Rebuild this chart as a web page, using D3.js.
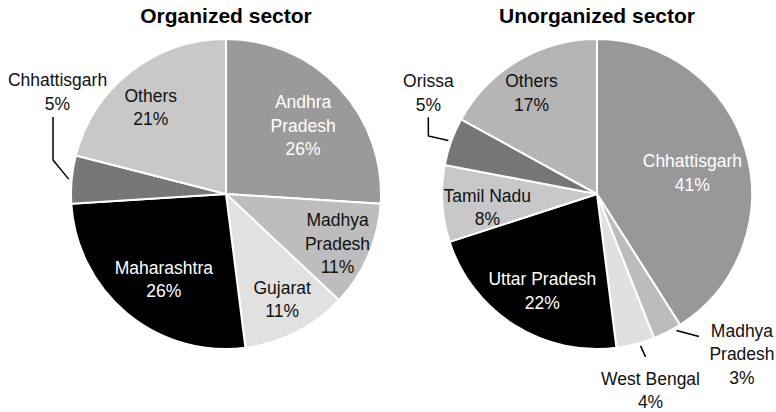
<!DOCTYPE html>
<html>
<head>
<meta charset="utf-8">
<script src="https://cdn.jsdelivr.net/npm/d3@7"></script>
<style>
  body { margin: 0; background: #fff; }
  text { font-family: "Liberation Sans", Arial, sans-serif; }
</style>
</head>
<body>
<svg width="776" height="412"></svg>
<script>
// organized sector, clockwise from 12 o'clock
const orgStates = ['Andhra Pradesh', 'Madhya Pradesh', 'Gujarat', 'Maharashtra', 'Chhattisgarh', 'Others']
const orgShares = [26, 11, 11, 26, 5, 21]
const orgColors = ['#9a9a9b', '#bdbdbd', '#e1e1e2', '#000000', '#77777a', '#c8c8c9']

// unorganized sector
const unorgStates = ['Chhattisgarh', 'Madhya Pradesh', 'West Bengal', 'Uttar Pradesh', 'Tamil Nadu', 'Orissa', 'Others']
const unorgShares = [41, 3, 4, 22, 8, 5, 17]
const unorgColors = ['#98989a', '#bcbcbd', '#e0e0e1', '#000000', '#c8c8c9', '#767678', '#b5b5b6']

const R = 155
const lineH = 23.5
const capH = 12.5

// label placement: inside labels sit on a centroid ring (k * R) + nudge,
// outside ones hang off a leader line
const panels = [
  {
    title: 'Organized sector', cx: 226, cy: 194,
    states: orgStates, shares: orgShares, colors: orgColors,
    labels: {
      'Andhra Pradesh': { split: true, k: 0.665, nudge: [2, 2], fill: '#fff' },
      'Madhya Pradesh': { split: true, k: 0.784, nudge: [0, 1] },
      'Gujarat': { k: 0.77, nudge: [2, -1] },
      'Maharashtra': { k: 0.68, nudge: [5, 4], fill: '#fff' },
      'Chhattisgarh': { leader: [[-15.7, -19.1], [0, -43]], text: [4.5, -31] },
      'Others': { k: 0.74, nudge: [-5, 4] }
    }
  },
  {
    title: 'Unorganized sector', cx: 597, cy: 194,
    states: unorgStates, shares: unorgShares, colors: unorgColors,
    labels: {
      'Chhattisgarh': { k: 0.63, nudge: [1.6, 6], fill: '#fff' },
      'Madhya Pradesh': { split: true, shift: -3.2, leader: [[22.5, 6]], text: [43, 0] },
      'West Bengal': { shift: -1.6, leader: [[5, 11]], text: [5, 28] },
      'Uttar Pradesh': { k: 0.718, nudge: [5, 3], fill: '#fff' },
      'Tamil Nadu': { k: 0.713, nudge: [0.6, 6.4] },
      'Orissa': { leader: [[-20, -4.5], [0, -18.7]], text: [0, -30] },
      'Others': { k: 0.78, nudge: [-4, 2.6] }
    }
  }
]

const svg = d3.select('svg')
const pie = d3.pie().sort(null).value(d => d.share)
const arc = d3.arc().innerRadius(0).outerRadius(R)
const deg = Math.PI / 180

panels.forEach(p => {
  const rows = p.states.map((s, i) => ({ state: s, share: p.shares[i], color: p.colors[i] }))
  const g = svg.append('g').attr('transform', `translate(${p.cx},${p.cy})`)

  svg.append('text')
    .attr('x', p.cx).attr('y', 23)
    .attr('text-anchor', 'middle')
    .attr('font-size', 21).attr('font-weight', 'bold')
    .attr('fill', '#000')
    .text(p.title)

  const arcs = pie(rows)

  g.selectAll('path.slice')
    .data(arcs)
    .join('path')
    .attr('class', 'slice')
    .attr('d', arc)
    .attr('fill', d => d.data.color)
    .attr('stroke', '#fff')
    .attr('stroke-width', 2)
    .attr('stroke-linejoin', 'round')

  arcs.forEach(d => {
    const cfg = p.labels[d.data.state]
    const lines = cfg.split ? d.data.state.split(' ') : [d.data.state]
    lines.push(d.data.share + '%')
    let x, y0
    if (cfg.leader) {
      const a = (d.startAngle + d.endAngle) / 2 + (cfg.shift || 0) * deg
      const r0 = R + 3
      let pt = [r0 * Math.sin(a), -r0 * Math.cos(a)]
      const pts = [pt]
      cfg.leader.forEach(s => { pt = [pt[0] + s[0], pt[1] + s[1]]; pts.push(pt) })
      g.append('path')
        .attr('d', d3.line()(pts))
        .attr('fill', 'none')
        .attr('stroke', '#000')
        .attr('stroke-width', 1.5)
      x = pt[0] + cfg.text[0]
      y0 = pt[1] + cfg.text[1]
    } else {
      const ring = d3.arc().innerRadius(cfg.k * R).outerRadius(cfg.k * R)
      const c = ring.centroid(d)
      x = c[0] + cfg.nudge[0]
      const cy = c[1] + cfg.nudge[1]
      y0 = cy - (capH + (lines.length - 1) * lineH) / 2 + capH
    }
    const t = g.append('text')
      .attr('text-anchor', 'middle')
      .attr('font-size', 17.5)
      .attr('fill', cfg.fill || '#111')
    lines.forEach((ln, i) => {
      t.append('tspan').attr('x', x).attr('y', y0 + i * lineH).text(ln)
    })
  })
})
</script>
</body>
</html>
